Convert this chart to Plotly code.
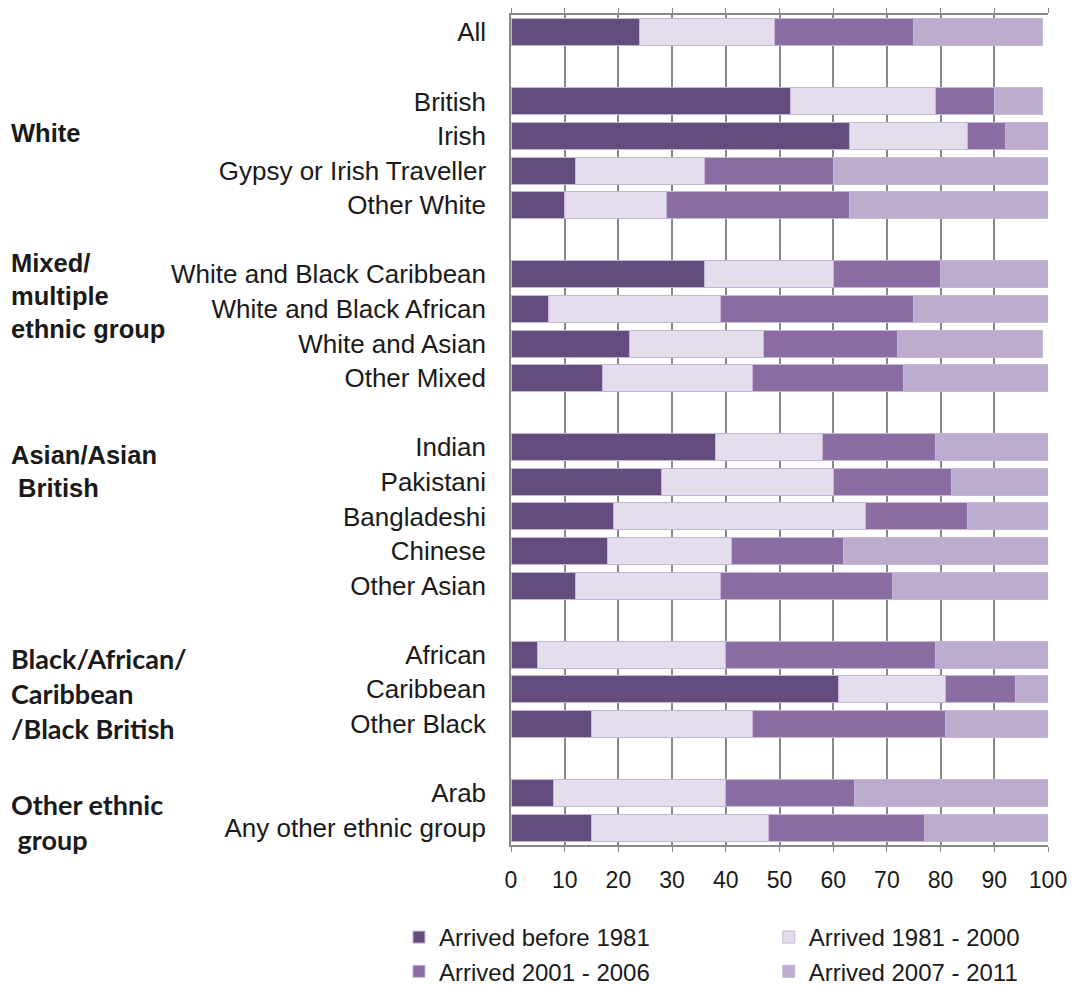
import plotly.graph_objects as go

# Ethnic groups and the categories inside each one (top to bottom)
group_names = [
    "",
    "White",
    "Mixed/<br>multiple<br>ethnic group",
    "Asian/Asian<br> British",
    "Black/African/<br>Caribbean<br>/Black British",
    "Other ethnic<br> group",
]
group_sizes = [1, 4, 4, 5, 3, 2]

categories = [
    "All",
    "British", "Irish", "Gypsy or Irish Traveller", "Other White",
    "White and Black Caribbean", "White and Black African", "White and Asian", "Other Mixed",
    "Indian", "Pakistani", "Bangladeshi", "Chinese", "Other Asian",
    "African", "Caribbean", "Other Black",
    "Arab", "Any other ethnic group",
]

# Percentage of residents by period of arrival
before_1981 = [24, 52, 63, 12, 10, 36, 7, 22, 17, 38, 28, 19, 18, 12, 5, 61, 15, 8, 15]
arrived_1981_2000 = [25, 27, 22, 24, 19, 24, 32, 25, 28, 20, 32, 47, 23, 27, 35, 20, 30, 32, 33]
arrived_2001_2006 = [26, 11, 7, 24, 34, 20, 36, 25, 28, 21, 22, 19, 21, 32, 39, 13, 36, 24, 29]
arrived_2007_2011 = [24, 9, 9, 40, 37, 20, 25, 27, 27, 21, 18, 16, 38, 29, 21, 6, 19, 37, 23]

series = [
    ("Arrived before 1981", before_1981, "#654C7F", "legend"),
    ("Arrived 1981 - 2000", arrived_1981_2000, "#E4DEEC", "legend2"),
    ("Arrived 2001 - 2006", arrived_2001_2006, "#896DA3", "legend"),
    ("Arrived 2007 - 2011", arrived_2007_2011, "#BCACCE", "legend2"),
]

# Row slots: one empty slot between consecutive groups
slots = []
pos = 0
for size in group_sizes:
    slots.extend(range(pos, pos + size))
    pos += size + 1
last_slot = slots[-1]

label_font = dict(family="Liberation Sans, Arial, sans-serif", size=26, color="#1a1a1a")
tick_font = dict(family="Liberation Sans, Arial, sans-serif", size=23, color="#1a1a1a")
legend_font = dict(family="Liberation Sans, Arial, sans-serif", size=24, color="#1a1a1a")

fig = go.Figure()
for name, vals, color, leg in series:
    fig.add_trace(go.Bar(
        name=name,
        x=vals,
        y=slots,
        orientation="h",
        marker=dict(color=color, line=dict(color="#C4B6D6", width=1)),
        legend=leg,
    ))

# Bold group headings at the far left
heading_y = [None, 2.91, 7.62, 12.71, 19.13, 22.83]
heading_fonts = [None, ("Liberation Sans", 25.5), ("Liberation Sans", 25.5),
                 ("Liberation Sans", 25.5), ("Lato", 27), ("Lato", 27)]
for gname, gy, gf in zip(group_names, heading_y, heading_fonts):
    if not gname:
        continue
    fig.add_annotation(
        text="<b>" + gname + "</b>",
        xref="paper", yref="y",
        x=-0.9346, y=gy,
        xanchor="left", yanchor="middle",
        align="left", showarrow=False,
        font=dict(family=gf[0] + ", Arial, sans-serif", size=gf[1], color="#1a1a1a"),
    )

fig.update_layout(
    width=1075, height=989,
    margin=dict(l=511, r=27, t=15, b=144, autoexpand=False),
    paper_bgcolor="white", plot_bgcolor="white",
    barmode="stack",
    bargap=0.22,
    showlegend=True,
    legend=dict(
        x=-0.2086, y=-0.1795, xanchor="left", yanchor="bottom",
        font=legend_font, traceorder="normal",
        bgcolor="rgba(0,0,0,0)", itemwidth=30,
    ),
    legend2=dict(
        x=0.48, y=-0.1795, xanchor="left", yanchor="bottom",
        font=legend_font, traceorder="normal",
        bgcolor="rgba(0,0,0,0)", itemwidth=30,
    ),
    xaxis=dict(
        range=[0, 100], dtick=10, tick0=0,
        showgrid=True, gridcolor="#888888", gridwidth=1.5,
        showline=True, linecolor="#888888", linewidth=1.5, mirror="ticks",
        ticks="outside", ticklen=5, tickcolor="#888888",
        tickfont=tick_font, ticklabelstandoff=9,
        zeroline=False, fixedrange=True, automargin=False,
    ),
    yaxis=dict(
        range=[last_slot + 0.5, -0.5],
        tickvals=slots, ticktext=categories,
        tickfont=label_font, ticks="", ticklabelstandoff=18,
        showgrid=False, zeroline=False,
        showline=True, linecolor="#888888", linewidth=1.5,
        fixedrange=True, automargin=False,
    ),
)

fig.write_html("out.html")
